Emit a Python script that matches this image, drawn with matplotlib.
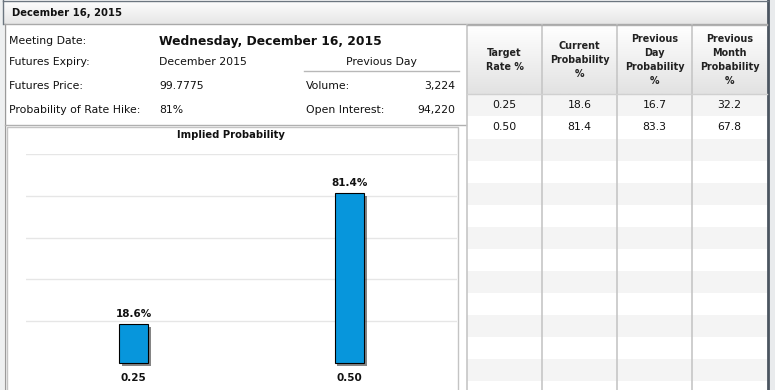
import numpy as np
import matplotlib
matplotlib.use("Agg")
import matplotlib.pyplot as plt
import matplotlib.patheffects as pe
from matplotlib.patches import Rectangle

# ---- data ----
title = "December 16, 2015"
meeting_date = "Wednesday, December 16, 2015"
info_labels = ["Meeting Date:", "Futures Expiry:", "Futures Price:", "Probability of Rate Hike:"]
info_values = [None, "December 2015", "99.7775", "81%"]
prev_labels = ["Volume:", "Open Interest:"]
prev_values = ["3,224", "94,220"]

target_rates = ["0.25", "0.50"]
current_prob = [18.6, 81.4]
prev_day_prob = [16.7, 83.3]
prev_month_prob = [32.2, 67.8]
table_headers = ["Target\nRate %", "Current\nProbability\n%",
                 "Previous\nDay\nProbability\n%", "Previous\nMonth\nProbability\n%"]

W, H = 775, 390
fig = plt.figure(figsize=(W / 100, H / 100), dpi=100)
fig.patch.set_facecolor("white")

# background axes in pixel coordinates
bg = fig.add_axes([0, 0, 1, 1])
bg.set_xlim(0, W)
bg.set_ylim(H, 0)
bg.axis("off")

txt = "#111111"
fs = 7.8
grad = np.linspace(0, 1, 50).reshape(-1, 1)

# outer light margin and borders
bg.add_patch(Rectangle((769, 0), 6, H, color="#e9ebed", lw=0))
bg.add_patch(Rectangle((0, 0), 4, H, color="#eef0f1", lw=0))
bg.plot([5, 5], [24, H], color="#9a9a9a", lw=1)
bg.plot([768, 768], [0, H], color="#4b5560", lw=2)

# title bar
bg.imshow(grad, cmap=matplotlib.colors.LinearSegmentedColormap.from_list("t", ["#fdfdfd", "#e6e6e6"]),
          extent=(4, 767, 24, 1), aspect="auto", zorder=0)
bg.plot([3, 768], [0.5, 0.5], color="#6c7680", lw=1)
bg.plot([4, 767], [24, 24], color="#a9a9a9", lw=1)
bg.plot([3, 3], [0, 24], color="#6c7680", lw=1)
bg.text(12, 13, title, fontsize=7.2, fontweight="bold", color=txt, va="center")

# info block
info_y = [41, 62, 86, 110]
for lab, val, y in zip(info_labels, info_values, info_y):
    bg.text(9, y, lab, fontsize=fs, color=txt, va="center")
    if val is not None:
        bg.text(159, y, val, fontsize=fs, color=txt, va="center")
bg.text(159, 41, meeting_date, fontsize=8.9, fontweight="bold", color=txt, va="center")

bg.text(381, 62, "Previous Day", fontsize=fs, color=txt, va="center", ha="center")
bg.plot([304, 459], [71, 71], color="#b8b8b8", lw=1)
for lab, val, y in zip(prev_labels, prev_values, info_y[2:]):
    bg.text(306, y, lab, fontsize=fs, color=txt, va="center")
    bg.text(455, y, val, fontsize=fs, color=txt, va="center", ha="right")

bg.plot([5, 466], [125, 125], color="#b0b0b0", lw=1)
# chart frame
bg.add_patch(Rectangle((7, 127), 451, 270, fill=False, ec="#c4c4c4", lw=1))
bg.text(231, 135, "Implied Probability", fontsize=7.2, fontweight="bold", color=txt,
        va="center", ha="center")

# table
col_x = [467, 542, 617, 692, 767]
row_h = 22
row_top = 94
bg.imshow(grad, cmap=matplotlib.colors.LinearSegmentedColormap.from_list("h", ["#ffffff", "#e2e2e2"]),
          extent=(467, 767, row_top, 25), aspect="auto", zorder=0)
n_rows = int(np.ceil((H - row_top) / row_h)) + 1
for i in range(n_rows):
    y0 = row_top + i * row_h + (1 if i > 0 else 0)
    if i % 2 == 0:
        bg.add_patch(Rectangle((467, y0), 300, row_h, color="#f4f4f4", lw=0, zorder=1))
for cx in col_x[:-1]:
    bg.plot([cx, cx], [25, H], color="#c6c6c6", lw=1.2, zorder=2)
bg.plot([467, 767], [94, 94], color="#d0d0d0", lw=1, zorder=2)
bg.plot([467, 767], [25, 25], color="#b0b0b0", lw=1, zorder=2)

centers = [(a + b) / 2 for a, b in zip(col_x[:-1], col_x[1:])]
for c, h in zip(centers, table_headers):
    bg.text(c, 60, h, fontsize=6.9, fontweight="bold", color="#222222", ha="center",
            va="center", linespacing=1.5, zorder=3)
for i, r in enumerate(target_rates):
    y = row_top + i * row_h + 11.5
    vals = [r, f"{current_prob[i]:.1f}", f"{prev_day_prob[i]:.1f}", f"{prev_month_prob[i]:.1f}"]
    for c, v in zip(centers, vals):
        bg.text(c, y, v, fontsize=fs, color=txt, ha="center", va="center", zorder=3)

# bar chart
ax = fig.add_axes([26 / W, 1 - 363 / H, (457 - 26) / W, (363 - 154) / H])
ax.set_facecolor("none")
x = np.arange(len(target_rates))
bars = ax.bar(x, current_prob, width=0.135, color="#0796dc", edgecolor="black", linewidth=0.8,
              path_effects=[pe.SimplePatchShadow(offset=(2.0, -2.0), shadow_rgbFace="#222222", alpha=0.55),
                            pe.Normal()], zorder=3)
for b in bars:
    b.set_clip_on(False)
for xi, v in zip(x, current_prob):
    ax.annotate(f"{v}%", (xi, v), xytext=(0, 3.5), textcoords="offset points", ha="center",
                va="bottom", fontsize=7.5, fontweight="bold", color=txt)
ax.set_xlim(-0.5, 1.5)
ax.set_ylim(0, 100)
ax.set_yticks([20, 40, 60, 80, 100])
ax.yaxis.grid(True, color="#e6e6e6", lw=1)
ax.set_axisbelow(True)
ax.set_yticklabels([])
ax.tick_params(axis="y", length=0)
ax.set_xticks(x)
ax.set_xticklabels(target_rates, fontsize=7.5, fontweight="bold", color=txt)
ax.tick_params(axis="x", length=0, pad=7)
for s in ax.spines.values():
    s.set_visible(False)

fig.savefig("out.png", dpi=100)
